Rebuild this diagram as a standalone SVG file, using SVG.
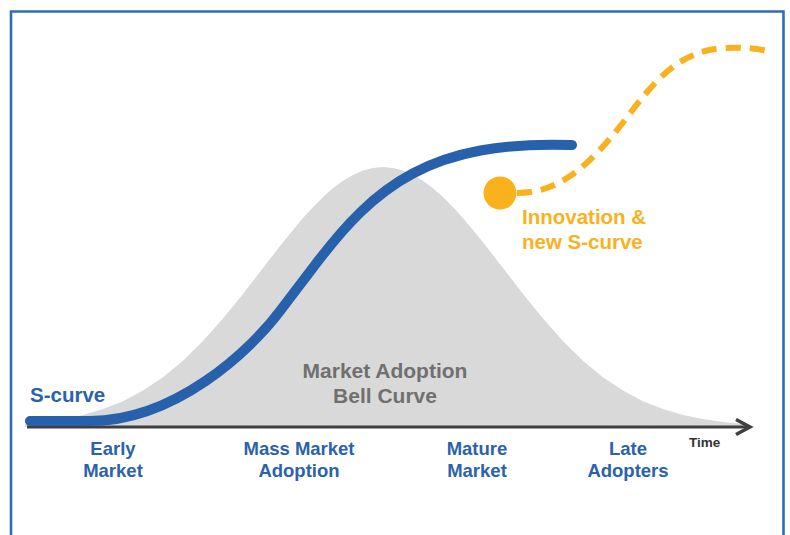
<svg xmlns="http://www.w3.org/2000/svg" width="790" height="535" viewBox="0 0 790 535">
<defs>
<style>
.t{font-family:"Liberation Sans",Arial,sans-serif;font-weight:bold}
.blue{fill:#2A62AC}
.gray{fill:#707070}
.orange{fill:#F9B11E}
</style>
</defs>
<rect x="0" y="0" width="790" height="535" fill="#ffffff"/>
<path id="frame" d="M11,545 V11.5 H783.5 V545" fill="none" stroke="#2F6BBC" stroke-width="2.6"/>
<g id="bell">
<path d="M25,427 L25,424 L43,422 L63,419.1 L83,415 L103,409.1 L123,401.2 L143,390.6 L163,377.2 L183,360.7 L203,341 L223,318.5 L243,293.9 L263,268 L283,242.2 L303,218 L313,207.2 L323,197.1 L333,188.3 L343,180.8 L353,174.9 L363,170.5 L373,167.9 L383,167 L393,167.9 L403,170.5 L413,174.9 L423,180.8 L433,188.3 L443,197.1 L453,207.2 L463,218 L483,242.2 L503,268 L523,293.9 L543,318.5 L563,341 L583,360.7 L603,377.2 L623,390.6 L643,401.2 L663,409.1 L683,415 L703,419.1 L723,422 L743,423.9 L743,427 Z" fill="#D9D9D9"/>
<text class="t gray" x="385" y="378" font-size="21" text-anchor="middle">Market Adoption</text>
<text class="t gray" x="385" y="403" font-size="21" text-anchor="middle">Bell Curve</text>
</g>
<g id="connectors">
<path id="axis" d="M27,427 H749" fill="none" stroke="#3F3F3F" stroke-width="3"/>
<path id="axis-head" d="M736,419.5 L750,427 L736,434.5" fill="none" stroke="#3F3F3F" stroke-width="3.5" stroke-linejoin="miter"/>
</g>
<g id="s-curve">
<path d="M30,421 L90,421 C175,421 250,351 280,311 L315,265 C375,186 430,140 572,145" fill="none" stroke="#2761AB" stroke-width="10" stroke-linecap="round" stroke-linejoin="round"/>
<text class="t blue" x="30" y="402" font-size="20.5">S-curve</text>
</g>
<g id="innovation">
<path d="M517,193 C560,193 590,165 625,120 C655,80 680,50 725,48 C745,47 760,49 772,52" fill="none" stroke="#F9B11E" stroke-width="6" stroke-dasharray="15 9"/>
<circle cx="500" cy="193" r="16.5" fill="#F9B11E"/>
<text class="t orange" x="522" y="224" font-size="20.5">Innovation &amp;</text>
<text class="t orange" x="522" y="249" font-size="20.5">new S-curve</text>
</g>
<g id="label-early">
<text class="t blue" x="113" y="455" font-size="18.5" text-anchor="middle">Early</text>
<text class="t blue" x="113" y="477" font-size="18.5" text-anchor="middle">Market</text>
</g>
<g id="label-mass">
<text class="t blue" x="299" y="455" font-size="18.5" text-anchor="middle">Mass Market</text>
<text class="t blue" x="299" y="477" font-size="18.5" text-anchor="middle">Adoption</text>
</g>
<g id="label-mature">
<text class="t blue" x="477" y="455" font-size="18.5" text-anchor="middle">Mature</text>
<text class="t blue" x="477" y="477" font-size="18.5" text-anchor="middle">Market</text>
</g>
<g id="label-late">
<text class="t blue" x="628" y="455" font-size="18.5" text-anchor="middle">Late</text>
<text class="t blue" x="628" y="477" font-size="18.5" text-anchor="middle">Adopters</text>
</g>
<g id="label-time">
<text class="t" x="689" y="447" font-size="13.5" fill="#333333">Time</text>
</g>
</svg>
